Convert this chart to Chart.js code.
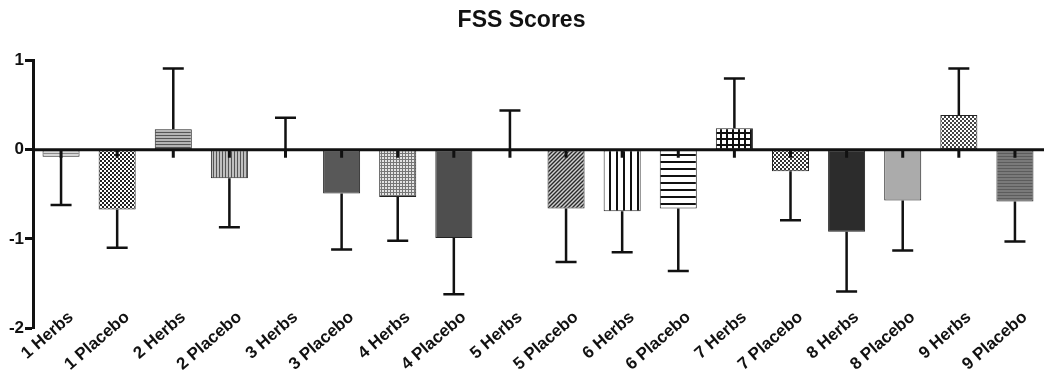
<!DOCTYPE html>
<html>
<head>
<meta charset="utf-8">
<script src="https://cdn.jsdelivr.net/npm/chart.js@4.4.0/dist/chart.umd.min.js"></script>
<style>
  html, body { margin: 0; padding: 0; background: #fff; }
  #wrap { width: 1044px; height: 385px; }
</style>
</head>
<body>
<div id="wrap"><canvas id="fss"></canvas></div>
<script>
var categories = ['1 Herbs', '1 Placebo', '2 Herbs', '2 Placebo', '3 Herbs', '3 Placebo',
	'4 Herbs', '4 Placebo', '5 Herbs', '5 Placebo', '6 Herbs', '6 Placebo',
	'7 Herbs', '7 Placebo', '8 Herbs', '8 Placebo', '9 Herbs', '9 Placebo'];
var scores = [-0.08, -0.67, 0.23, -0.32, 0, -0.49, -0.53, -0.99, 0, -0.66, -0.69, -0.66,
	0.24, -0.24, -0.92, -0.57, 0.39, -0.58];
var errors = [0.54, 0.43, 0.68, 0.55, 0.36, 0.63, 0.49, 0.63, 0.44, 0.60, 0.46, 0.70,
	0.56, 0.55, 0.67, 0.56, 0.52, 0.45];
var yTicks = [-2, -1, 0, 1];

// little pattern tiles for the bar fills
function tile(size, drawFn) {
	var c = document.createElement('canvas');
	c.width = size;
	c.height = size;
	var g = c.getContext('2d');
	drawFn(g, size);
	return g.createPattern(c, 'repeat');
}
function solid(bg) {
	return tile(2, function (g, s) { g.fillStyle = bg; g.fillRect(0, 0, s, s); });
}
function hlines(bg, fg, period, thick) {
	return tile(period, function (g, s) {
		g.fillStyle = bg; g.fillRect(0, 0, s, s);
		g.fillStyle = fg; g.fillRect(0, 0, s, thick);
	});
}
function vlines(bg, fg, period, thick) {
	return tile(period, function (g, s) {
		g.fillStyle = bg; g.fillRect(0, 0, s, s);
		g.fillStyle = fg; g.fillRect(0, 0, thick, s);
	});
}
function grid(bg, fg, period, thick) {
	return tile(period, function (g, s) {
		g.fillStyle = bg; g.fillRect(0, 0, s, s);
		g.fillStyle = fg; g.fillRect(0, 0, s, thick); g.fillRect(0, 0, thick, s);
	});
}
function checker(a, b, cell) {
	return tile(cell * 2, function (g, s) {
		g.fillStyle = a; g.fillRect(0, 0, s, s);
		g.fillStyle = b; g.fillRect(0, 0, cell, cell); g.fillRect(cell, cell, cell, cell);
	});
}
function diag(bg, fg, period) {
	return tile(period, function (g, s) {
		g.fillStyle = bg; g.fillRect(0, 0, s, s);
		g.strokeStyle = fg; g.lineWidth = 1.4;
		g.beginPath();
		g.moveTo(0, s); g.lineTo(s, 0);
		g.moveTo(-1, 1); g.lineTo(1, -1);
		g.moveTo(s - 1, s + 1); g.lineTo(s + 1, s - 1);
		g.stroke();
	});
}

var fills = [
	hlines('#d8d8d8', '#8a8a8a', 3, 1),
	checker('#ffffff', '#222222', 2),
	hlines('#b4b4b4', '#555555', 3, 1),
	vlines('#c0c0c0', '#555555', 3, 1),
	solid('#999999'),
	solid('#585858'),
	grid('#e4e4e4', '#777777', 3, 1),
	solid('#4e4e4e'),
	solid('#999999'),
	diag('#d0d0d0', '#2a2a2a', 4),
	vlines('#ffffff', '#111111', 7, 2),
	hlines('#ffffff', '#111111', 7, 2),
	grid('#ffffff', '#111111', 6, 2),
	checker('#ffffff', '#333333', 2),
	solid('#2c2c2c'),
	solid('#ababab'),
	checker('#ffffff', '#444444', 2),
	hlines('#7a7a7a', '#5c5c5c', 3, 1)
];

var errorBars = {
	id: 'errorBars',
	afterDatasetsDraw: function (chart) {
		var ctx = chart.ctx;
		var xs = chart.scales.x;
		var ys = chart.scales.y;
		var area = chart.chartArea;
		var zero = ys.getPixelForValue(0);
		ctx.save();
		ctx.strokeStyle = '#111';
		ctx.fillStyle = '#111';
		ctx.lineWidth = 2.5;
		for (var i = 0; i < scores.length; i++) {
			var x = xs.getPixelForValue(i);
			var dir = scores[i] >= 0 ? 1 : -1;
			var yBar = ys.getPixelForValue(scores[i]);
			var yEnd = ys.getPixelForValue(scores[i] + dir * errors[i]);
			ctx.beginPath();
			ctx.moveTo(x, yBar);
			ctx.lineTo(x, yEnd);
			ctx.moveTo(x - 10.5, yEnd);
			ctx.lineTo(x + 10.5, yEnd);
			ctx.stroke();
			// short stub just below the zero line
			ctx.fillRect(x - 1.5, zero, 3, 8);
		}
		// zero line on top of the bars
		ctx.lineWidth = 3;
		ctx.beginPath();
		ctx.moveTo(area.left, zero);
		ctx.lineTo(chart.width, zero);
		ctx.stroke();

		// rotated category labels
		ctx.font = 'bold 17px "Liberation Sans", Arial, sans-serif';
		ctx.textAlign = 'right';
		ctx.textBaseline = 'middle';
		for (var j = 0; j < categories.length; j++) {
			var lx = xs.getPixelForValue(j) + 10;
			ctx.save();
			ctx.translate(lx, 315);
			ctx.rotate(-41 * Math.PI / 180);
			ctx.fillText(categories[j], 0, 0);
			ctx.restore();
		}
		ctx.restore();
	}
};

var ctx = document.getElementById('fss');

var data = {
	labels: categories,
	datasets: [{
		label: 'FSS',
		data: scores,
		backgroundColor: fills,
		borderColor: '#222',
		borderWidth: 1,
		borderSkipped: false,
		categoryPercentage: 1,
		barPercentage: 0.66
	}]
};

var options = {
	responsive: true,
	maintainAspectRatio: false,
	animation: false,
	layout: {
		padding: { left: 0, right: 1, top: 0, bottom: 57 }
	},
	plugins: {
		legend: { display: false },
		tooltip: { enabled: false },
		title: {
			display: true,
			text: 'FSS Scores',
			color: '#111',
			font: { family: '"Liberation Sans", Arial, sans-serif', size: 23, weight: 'bold' },
			padding: { top: 7, bottom: 26 }
		}
	},
	scales: {
		x: {
			display: false
		},
		y: {
			min: -2,
			max: 1,
			afterBuildTicks: function (scale) {
				scale.ticks = yTicks.map(function (v) { return { value: v }; });
			},
			afterFit: function (scale) {
				scale.width = 33;
			},
			border: { display: true, color: '#111', width: 3 },
			grid: {
				display: true,
				drawOnChartArea: false,
				drawTicks: true,
				tickLength: 8,
				tickWidth: 3,
				tickColor: '#111'
			},
			ticks: {
				color: '#111',
				padding: 1,
				font: { family: '"Liberation Sans", Arial, sans-serif', size: 17, weight: 'bold' }
			}
		}
	}
};

var chart = new Chart(ctx, {
	type: 'bar',
	data: data,
	options: options,
	plugins: [errorBars]
});
</script>
</body>
</html>
